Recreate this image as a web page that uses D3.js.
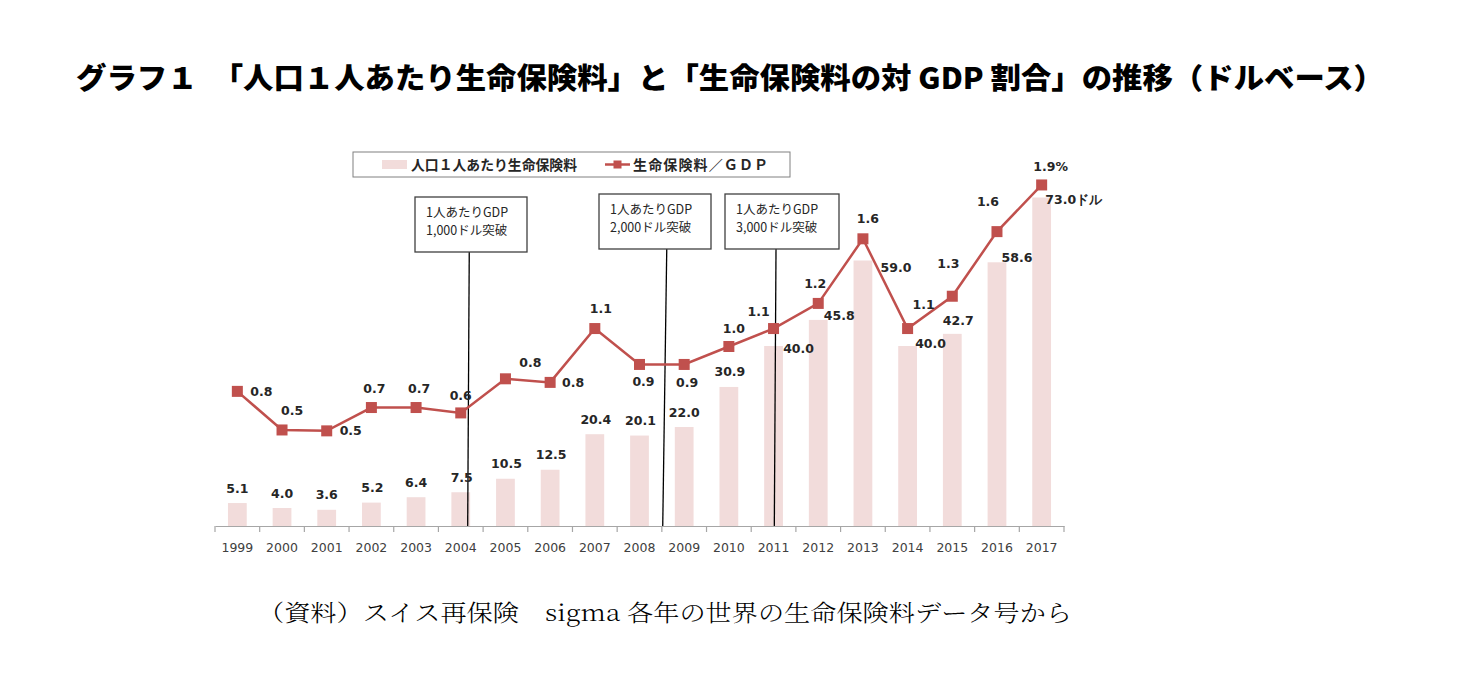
<!DOCTYPE html>
<html>
<head>
<meta charset="utf-8">
<script src="https://cdn.jsdelivr.net/npm/d3@7"></script>
<style>
  body { margin: 0; background: #fff; }
  svg { display: block; }
</style>
</head>
<body>
<div id="chart"></div>
<script>
// categories
var years = ["1999", "2000", "2001", "2002", "2003", "2004", "2005", "2006", "2007", "2008",
             "2009", "2010", "2011", "2012", "2013", "2014", "2015", "2016", "2017"];

// 人口1人あたり生命保険料 (ドル)
var premiumPerCapita = [5.1, 4.0, 3.6, 5.2, 6.4, 7.5, 10.5, 12.5, 20.4, 20.1,
                        22.0, 30.9, 40.0, 45.8, 59.0, 40.0, 42.7, 58.6, 73.0];
var premiumLabels = ["5.1", "4.0", "3.6", "5.2", "6.4", "7.5", "10.5", "12.5", "20.4", "20.1",
                     "22.0", "30.9", "40.0", "45.8", "59.0", "40.0", "42.7", "58.6", "73.0ドル"];

// 生命保険料/GDP (%)
var premiumToGdp = [0.75, 0.535, 0.53, 0.66, 0.66, 0.63, 0.82, 0.80, 1.10, 0.90,
                    0.90, 1.00, 1.10, 1.24, 1.60, 1.10, 1.28, 1.64, 1.90];
var gdpLabels = ["0.8", "0.5", "0.5", "0.7", "0.7", "0.6", "0.8", "0.8", "1.1", "0.9",
                 "0.9", "1.0", "1.1", "1.2", "1.6", "1.1", "1.3", "1.6", "1.9%"];

// annotations (position in category units)
var noteText = [["1人あたりGDP", "1,000ドル突破"],
                ["1人あたりGDP", "2,000ドル突破"],
                ["1人あたりGDP", "3,000ドル突破"]];
var noteTop = [5.69, 10.11, 12.555];
var noteBottom = [5.655, 10.02, 12.517];

// label offsets (layout only)
var barLabelOffset = [[0,-15],[0,-15],[0,-15],[1,-15],[0,-15],[1,-15],[1,-15],[1,-15],[1,-15],[1,-15],
                      [0,-15],[1,-15],[25,2],[21,-4],[33,7],[23,-3],[6,-13],[20,-5],[32,2]];
var lineLabelOffset = [[24,0],[10,-19],[24,0],[3,-19],[3,-19],[0,-17],[25,-16],[23,0],[6,-20],[4,17],
                       [3,18],[5,-18],[-15,-17],[-3,-20],[5,-20],[16,-24],[-4,-33],[-9,-30],[9,-18]];

var svgWidth = 1478, svgHeight = 675;
var plotLeft = 215, plotRight = 1064, baseY = 526;

var svg = d3.select("#chart").append("svg")
    .attr("width", svgWidth)
    .attr("height", svgHeight);

svg.append("rect").attr("width", svgWidth).attr("height", svgHeight).attr("fill", "#fff");

// title
svg.append("text")
    .attr("x", 76)
    .attr("y", 89)
    .attr("font-family", "'Noto Sans CJK JP', sans-serif")
    .attr("font-weight", "900")
    .attr("font-size", "29px")
    .attr("fill", "#000")
    .attr("textLength", 1308)
    .attr("lengthAdjust", "spacingAndGlyphs")
    .text("グラフ１　「人口１人あたり生命保険料」と「生命保険料の対 GDP 割合」の推移（ドルベース）");

// scales
var x = d3.scaleBand().domain(years).range([plotLeft, plotRight]).padding(0);
var xPos = d3.scaleLinear().domain([0, years.length]).range([plotLeft, plotRight]);
var yBar = d3.scaleLinear().domain([0, 80]).range([baseY, baseY - 360]);
var yLine = d3.scaleLinear().domain([0, 2]).range([baseY, baseY - 359]);
var barW = x.bandwidth() * 0.42;
var cx = function(i) { return x(years[i]) + x.bandwidth() / 2; };

// bars
svg.append("g").selectAll("rect")
    .data(premiumPerCapita)
    .enter()
    .append("rect")
    .attr("x", (d, i) => cx(i) - barW / 2)
    .attr("y", d => yBar(d))
    .attr("width", barW)
    .attr("height", d => baseY - yBar(d))
    .attr("fill", "#f2dcdb");

// x axis
var axis = svg.append("g")
    .attr("transform", `translate(0, ${baseY})`)
    .call(d3.axisBottom(x).tickSize(0).tickPadding(17).tickSizeOuter(0));
axis.select(".domain").attr("stroke", "#a6a6a6").attr("stroke-width", 1.2);
axis.selectAll("text")
    .attr("font-family", "'DejaVu Sans', Verdana, sans-serif")
    .attr("font-size", "12.5px")
    .attr("fill", "#404040");

// category boundary ticks
svg.append("g").selectAll("line")
    .data(d3.range(years.length + 1))
    .enter()
    .append("line")
    .attr("x1", d => xPos(d))
    .attr("x2", d => xPos(d))
    .attr("y1", baseY)
    .attr("y2", baseY + 6)
    .attr("stroke", "#a6a6a6")
    .attr("stroke-width", 1.2);

// annotation boxes and lines
var boxes = [[415, 197, 112, 55], [599, 194, 112, 55], [725, 194, 114, 55]];
var notes = svg.append("g");
noteText.forEach(function(t, i) {
    var b = boxes[i];
    notes.append("line")
        .attr("x1", xPos(noteTop[i]))
        .attr("x2", xPos(noteBottom[i]))
        .attr("y1", b[1] + b[3])
        .attr("y2", baseY)
        .attr("stroke", "#000")
        .attr("stroke-width", 1.3);
    notes.append("rect")
        .attr("x", b[0]).attr("y", b[1])
        .attr("width", b[2]).attr("height", b[3])
        .attr("fill", "#fff")
        .attr("stroke", "#404040")
        .attr("stroke-width", 1.3);
    t.forEach(function(s, j) {
        notes.append("text")
            .attr("x", b[0] + 11)
            .attr("y", b[1] + 20 + j * 18)
            .attr("font-family", "'Noto Sans CJK JP', sans-serif")
            .attr("font-size", "12.5px")
            .attr("fill", "#262626")
            .text(s);
    });
});

// line
var line = d3.line()
    .x((d, i) => cx(i))
    .y(d => yLine(d));

svg.append("path")
    .datum(premiumToGdp)
    .attr("d", line)
    .attr("fill", "none")
    .attr("stroke", "#c0504d")
    .attr("stroke-width", 2.5);

svg.append("g").selectAll("rect")
    .data(premiumToGdp)
    .enter()
    .append("rect")
    .attr("x", (d, i) => cx(i) - 5.5)
    .attr("y", d => yLine(d) - 5.5)
    .attr("width", 11)
    .attr("height", 11)
    .attr("fill", "#c0504d");

// data labels
var labelFont = "'DejaVu Sans', Verdana, sans-serif";
svg.append("g").selectAll("text")
    .data(premiumPerCapita)
    .enter()
    .append("text")
    .attr("x", (d, i) => cx(i) + barLabelOffset[i][0])
    .attr("y", (d, i) => yBar(d) + barLabelOffset[i][1])
    .attr("dy", "0.36em")
    .attr("text-anchor", "middle")
    .attr("font-family", labelFont)
    .attr("font-weight", "bold")
    .attr("font-size", "12.5px")
    .attr("fill", "#262626")
    .text((d, i) => premiumLabels[i]);

svg.append("g").selectAll("text")
    .data(premiumToGdp)
    .enter()
    .append("text")
    .attr("x", (d, i) => cx(i) + lineLabelOffset[i][0])
    .attr("y", (d, i) => yLine(d) + lineLabelOffset[i][1])
    .attr("dy", "0.36em")
    .attr("text-anchor", "middle")
    .attr("font-family", labelFont)
    .attr("font-weight", "bold")
    .attr("font-size", "12.5px")
    .attr("fill", "#262626")
    .text((d, i) => gdpLabels[i]);

// legend
var legend = svg.append("g");
legend.append("rect")
    .attr("x", 353).attr("y", 152)
    .attr("width", 437).attr("height", 25)
    .attr("fill", "#fff")
    .attr("stroke", "#808080")
    .attr("stroke-width", 1);
legend.append("rect")
    .attr("x", 382).attr("y", 160)
    .attr("width", 25).attr("height", 9)
    .attr("fill", "#f2dcdb");
legend.append("text")
    .attr("x", 411).attr("y", 169.5)
    .attr("font-family", "'Noto Sans CJK JP', sans-serif")
    .attr("font-weight", "bold")
    .attr("font-size", "14px")
    .attr("fill", "#262626")
    .attr("textLength", 166)
    .attr("lengthAdjust", "spacingAndGlyphs")
    .text("人口１人あたり生命保険料");
legend.append("line")
    .attr("x1", 605).attr("x2", 630)
    .attr("y1", 164.5).attr("y2", 164.5)
    .attr("stroke", "#c0504d")
    .attr("stroke-width", 2.5);
legend.append("rect")
    .attr("x", 613.5).attr("y", 160.5)
    .attr("width", 8).attr("height", 8)
    .attr("fill", "#c0504d");
legend.append("text")
    .attr("x", 633).attr("y", 169.5)
    .attr("font-family", "'Noto Sans CJK JP', sans-serif")
    .attr("font-weight", "bold")
    .attr("font-size", "14px")
    .attr("fill", "#262626")
    .attr("textLength", 135)
    .attr("lengthAdjust", "spacing")
    .text("生命保険料／ＧＤＰ");

// source note
svg.append("text")
    .attr("x", 258)
    .attr("y", 621)
    .attr("font-family", "'Noto Serif CJK JP', 'Noto Sans CJK JP', serif")
    .attr("font-weight", "300")
    .attr("font-size", "23px")
    .attr("fill", "#000")
    .attr("textLength", 814)
    .attr("lengthAdjust", "spacingAndGlyphs")
    .text("（資料）スイス再保険　sigma 各年の世界の生命保険料データ号から");
</script>
</body>
</html>
